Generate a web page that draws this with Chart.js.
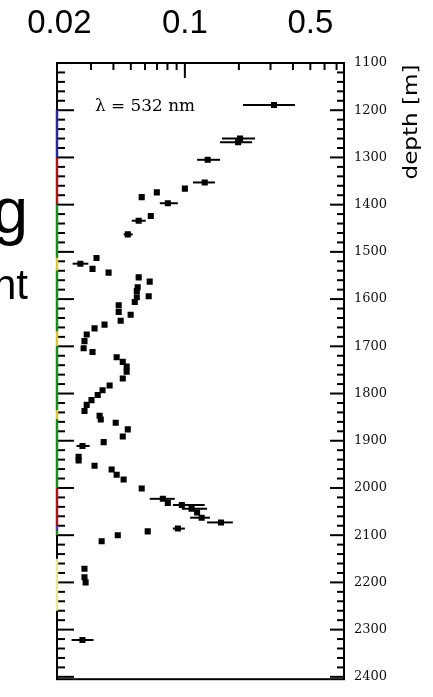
<!DOCTYPE html>
<html>
<head>
<meta charset="utf-8">
<script src="https://cdn.jsdelivr.net/npm/chart.js@4.4.1/dist/chart.umd.min.js"></script>
<style>
    html, body { margin: 0; padding: 0; background: #fff; overflow: hidden; }
    #contenedor { position: relative; width: 433px; height: 697px; }
    #grafico { position: absolute; left: 0; top: 0; }
    .texto-diapo { position: absolute; right: 405px; line-height: 1; white-space: nowrap;
                   font-family: "Liberation Sans", Arial, sans-serif; color: #000; }
</style>
</head>
<body>
<div id="contenedor">
    <canvas id="grafico" width="433" height="697"></canvas>
    <div class="texto-diapo" style="top:179px; font-size:64px;">g</div>
    <div class="texto-diapo" style="top:264px; font-size:42px;">nt</div>
</div>
<script>
const profundidad = [1260, 1268, 1305, 1353, 1366, 1374, 1384, 1397, 1424, 1434, 1463,
    1513, 1525, 1536, 1544, 1554, 1563, 1575, 1583, 1594, 1596, 1606, 1613, 1627, 1633,
    1646, 1654, 1662, 1675, 1689, 1704, 1712, 1723, 1733, 1743, 1754, 1768, 1783, 1793,
    1803, 1814, 1824, 1837, 1847, 1855, 1862, 1876, 1891, 1903, 1911, 1934, 1942, 1953,
    1961, 1972, 1982, 2001, 2023, 2032, 2036, 2044, 2052, 2063, 2073, 2086, 2092, 2100,
    2113, 2171, 2189, 2200, 2322];
const dispersion = [0.203, 0.198, 0.134, 0.129, 0.100, 0.0698, 0.0575, 0.0804, 0.0646, 0.0553, 0.0481,
    0.0322, 0.0262, 0.0306, 0.0376, 0.0553, 0.0637, 0.0546, 0.0540, 0.0629, 0.0540, 0.0526, 0.0428, 0.0428, 0.0499,
    0.0439, 0.0357, 0.0314, 0.0284, 0.0276, 0.0273, 0.0306, 0.0417, 0.0451, 0.0474, 0.0474, 0.0451, 0.0381, 0.0348,
    0.0327, 0.0302, 0.0284, 0.0276, 0.0335, 0.0340, 0.0412, 0.0481, 0.0451, 0.0353, 0.0269, 0.0256, 0.0256, 0.0314,
    0.0391, 0.0417, 0.0456, 0.0575, 0.0754, 0.0804, 0.0962, 0.109, 0.117, 0.124, 0.159, 0.0914, 0.0621, 0.0423,
    0.0344, 0.0276, 0.0276, 0.0280, 0.0269];
// barras de error horizontales (null = sin barra visible)
const errorMin = [0.161, 0.157, 0.117, 0.111, null, null, null, 0.0725, null, 0.0506, 0.0456,
    null, 0.0237, null, null, null, null, null, null, null, null, null, null, null, null,
    null, null, null, null, null, null, null, null, null, null, null, null, null, null,
    null, null, null, null, null, null, null, null, null, null, 0.0249, null, null, null,
    null, null, null, null, 0.0637, null, 0.0857, 0.0962, null, 0.107, 0.133, 0.0857, null, null,
    null, null, null, null, 0.0234];
const errorMax = [0.246, 0.237, 0.157, 0.147, null, null, null, 0.0914, null, 0.0605, 0.0512,
    null, 0.0290, null, null, null, null, null, null, null, null, null, null, null, null,
    null, null, null, null, null, null, null, null, null, null, null, null, null, null,
    null, null, null, null, null, null, null, null, null, null, 0.0295, null, null, null,
    null, null, null, null, 0.0879, null, 0.129, 0.133, null, 0.138, 0.185, 0.100, null, null,
    null, null, null, null, 0.0310];

const valoresX = [0.02, 0.1, 0.5];
const etiquetasX = ['0.02', '0.1', '0.5'];
const marcasMenoresX = [0.03, 0.04, 0.05, 0.06, 0.07, 0.08, 0.09, 0.2, 0.3, 0.4, 0.5, 0.6, 0.7];
const marcasY = [1100, 1200, 1300, 1400, 1500, 1600, 1700, 1800, 1900, 2000, 2100, 2200, 2300, 2400];

// franjas de color sobre el eje izquierdo (desde, hasta, color)
const bandasDesde = [1200, 1300, 1400, 1512, 1540, 1668, 1700, 1835, 1855, 2000, 2080, 2090, 2150];
const bandasHasta = [1300, 1400, 1512, 1540, 1668, 1700, 1835, 1855, 2000, 2080, 2090, 2100, 2260];
const bandasColor = ['#2a2a9c', '#a81818', '#1c8c1c', '#d6c83a', '#1c8c1c', '#d6c83a', '#1c8c1c',
    '#d6c83a', '#1c8c1c', '#a81818', '#5a3c9c', '#1c8c1c', '#e8e69a'];

const barrasError = {
    id: 'barrasError',
    beforeDatasetsDraw(chart) {
        const { ctx, scales: { x, y } } = chart;
        ctx.save();
        ctx.strokeStyle = '#000';
        ctx.lineWidth = 2;
        profundidad.forEach((d, i) => {
            if (errorMin[i] == null) return;
            const py = y.getPixelForValue(d);
            ctx.beginPath();
            ctx.moveTo(x.getPixelForValue(errorMin[i]), py);
            ctx.lineTo(x.getPixelForValue(errorMax[i]), py);
            ctx.stroke();
        });
        ctx.restore();
    }
};

const marco = {
    id: 'marco',
    afterDraw(chart) {
        const { ctx, chartArea: a, scales: { x, y } } = chart;
        ctx.save();
        ctx.strokeStyle = '#000';
        ctx.lineWidth = 2;
        ctx.strokeRect(a.left, a.top, a.right - a.left, a.bottom - a.top);

        // marcas del eje superior (hacia adentro)
        const linea = (x1, y1, x2, y2) => { ctx.beginPath(); ctx.moveTo(x1, y1); ctx.lineTo(x2, y2); ctx.stroke(); };
        marcasMenoresX.forEach(v => {
            const px = x.getPixelForValue(v);
            linea(px, a.top, px, a.top + 7);
        });
        const p01 = x.getPixelForValue(0.1);
        linea(p01, a.top, p01, a.top + 15);

        // marcas de profundidad cada 20 m a ambos lados
        for (let k = 0; k < marcasY.length; k++) {
            for (let s = 0; s < 5; s++) {
                const d = marcasY[k] + s * 20;
                if (d > y.max) break;
                const py = y.getPixelForValue(d);
                const mayor = s === 0;
                linea(a.left, py, a.left + (mayor ? 17 : 8), py);
                linea(a.right, py, a.right - (mayor ? 14 : 7), py);
            }
        }

        // franjas de color en el borde izquierdo
        ctx.lineWidth = 2.5;
        bandasDesde.forEach((d, i) => {
            ctx.strokeStyle = bandasColor[i];
            linea(a.left, y.getPixelForValue(d), a.left, y.getPixelForValue(bandasHasta[i]));
        });

        // leyenda
        ctx.fillStyle = '#000';
        ctx.strokeStyle = '#000';
        ctx.lineWidth = 2;
        ctx.font = '16px "DejaVu Serif"';
        ctx.textBaseline = 'middle';
        const textoLeyenda = '\u03bb = 532 nm';
        const anchoLeyenda = ctx.measureText(textoLeyenda).width;
        ctx.save();
        ctx.translate(a.left + 38, a.top + 44);
        ctx.scale(100 / anchoLeyenda, 1.05);
        ctx.fillText(textoLeyenda, 0, 0);
        ctx.restore();
        linea(a.left + 186, a.top + 42, a.left + 238, a.top + 42);
        ctx.fillRect(a.left + 214, a.top + 39, 6, 6);

        // titulo del eje de profundidad
        ctx.font = '20px "DejaVu Sans"';
        ctx.textAlign = 'center';
        const titulo = 'depth [m]';
        const anchoTitulo = ctx.measureText(titulo).width;
        ctx.translate(a.right + 68, a.top + 59);
        ctx.rotate(-Math.PI / 2);
        ctx.scale(115 / anchoTitulo, 1);
        ctx.fillText(titulo, 0, 0);
        ctx.restore();
    }
};

new Chart(document.getElementById('grafico').getContext('2d'), {
    type: 'scatter',
    data: {
        datasets: [{
            data: profundidad.map((d, i) => ({ x: dispersion[i], y: d })),
            pointStyle: 'rect',
            pointRadius: 4.3,
            pointBackgroundColor: '#000',
            pointBorderWidth: 0
        }]
    },
    options: {
        responsive: false,
        animation: false,
        layout: { padding: { left: 57, top: 0, right: 0, bottom: 5 } },
        plugins: { legend: { display: false }, tooltip: { enabled: false } },
        scales: {
            x: {
                type: 'logarithmic',
                position: 'top',
                min: 0.0194,
                max: 0.77,
                grid: { display: false, drawTicks: false },
                border: { display: false },
                afterBuildTicks: eje => { eje.ticks = valoresX.map(v => ({ value: v })); },
                afterFit: eje => { eje.height = 63; },
                ticks: {
                    callback: (v, i) => etiquetasX[i],
                    font: { family: 'Liberation Sans', size: 33 },
                    color: '#000',
                    padding: 19,
                    maxRotation: 0,
                    autoSkip: false
                }
            },
            y: {
                type: 'linear',
                position: 'right',
                reverse: true,
                min: 1100,
                max: 2405,
                grid: { display: false, drawTicks: false },
                border: { display: false },
                afterBuildTicks: eje => { eje.ticks = marcasY.map(v => ({ value: v })); },
                afterFit: eje => { eje.width = 89; },
                ticks: {
                    callback: v => String(v),
                    font: { family: 'DejaVu Serif', size: 13 },
                    color: '#111',
                    padding: 10,
                    autoSkip: false
                }
            }
        }
    },
    plugins: [barrasError, marco]
});
</script>
</body>
</html>
